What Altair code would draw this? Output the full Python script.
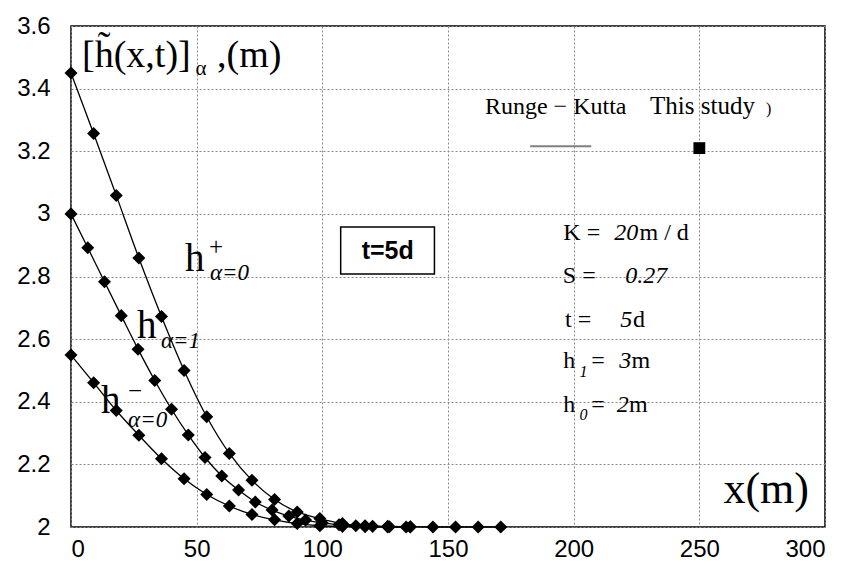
import altair as alt
import pandas as pd

# ---- data ----
x_plus = [0, 9, 18, 27, 36, 45, 54, 63, 72, 81, 90, 99, 108, 117, 126, 135, 144, 153, 162, 171]
h_plus = [3.45, 3.257, 3.059, 2.859, 2.672, 2.500, 2.352, 2.235, 2.149, 2.088,
          2.048, 2.027, 2.011, 2.004, 2.002, 2.001, 2.0, 2.0, 2.0, 2.0]

x_mid = [0, 6.67, 13.33, 20, 26.67, 33.33, 40, 46.67, 53.33, 60, 66.67, 73.33, 80,
         86.67, 93.33, 100, 106.67, 113.33, 120, 126.67, 133.33]
h_mid = [3.000, 2.892, 2.783, 2.675, 2.568, 2.468, 2.376, 2.294, 2.222, 2.163, 2.118,
         2.080, 2.054, 2.035, 2.022, 2.013, 2.007, 2.004, 2.002, 2.001, 2.000]

x_minus = [0, 9, 18, 27, 36, 45, 54, 63, 72, 81, 90, 99, 108, 117, 126, 135]
h_minus = [2.549, 2.461, 2.372, 2.293, 2.218, 2.154, 2.104, 2.067, 2.040, 2.023,
           2.011, 2.004, 2.002, 2.001, 2.000, 2.000]

x_ticks = [0, 50, 100, 150, 200, 250, 300]
y_ticks = [2.0, 2.2, 2.4, 2.6, 2.8, 3.0, 3.2, 3.4, 3.6]

rows = []
for name, xs, hs in [("plus", x_plus, h_plus), ("mid", x_mid, h_mid), ("minus", x_minus, h_minus)]:
    for a, b in zip(xs, hs):
        rows.append({"series": name, "x": a, "h": b})
df = pd.DataFrame(rows)

X = alt.X("x:Q", title=None,
          scale=alt.Scale(domain=[0, 300], nice=False, zero=False),
          axis=alt.Axis(values=x_ticks, format="d", labelPadding=10))
Y = alt.Y("h:Q", title=None,
          scale=alt.Scale(domain=[2.0, 3.6], nice=False, zero=False),
          axis=alt.Axis(values=y_ticks, format="~g", labelPadding=21))

lines = alt.Chart(df).mark_line(color="black", strokeWidth=1.3, interpolate="monotone").encode(
    x=X, y=Y, detail="series:N")
points = alt.Chart(df).mark_point(shape="diamond", filled=True, color="black", size=170, opacity=1).encode(
    x=X, y=Y)

SERIF = "Liberation Serif"
SANS = "Liberation Sans"

# (text, x, h, size, font, style, weight, align, baseline)
pieces = [
    ("[h\u0303(x,t)]", 4.4, 3.468, 38, SERIF, "normal", "normal", "left", "alphabetic"),
    ("α", 49.5, 3.443, 21, SERIF, "normal", "normal", "left", "alphabetic"),
    (",(m)", 58.1, 3.468, 38, SERIF, "normal", "normal", "left", "alphabetic"),
    ("h", 45.4, 2.819, 39, SERIF, "normal", "normal", "left", "alphabetic"),
    ("+", 57.7, 2.869, 25, SERIF, "normal", "normal", "center", "alphabetic"),
    ("α=0", 55.3, 2.790, 23, SERIF, "italic", "normal", "left", "alphabetic"),
    ("h", 26.3, 2.604, 39, SERIF, "normal", "normal", "left", "alphabetic"),
    ("α=1", 35.8, 2.572, 23, SERIF, "italic", "normal", "left", "alphabetic"),
    ("h", 11.9, 2.364, 39, SERIF, "normal", "normal", "left", "alphabetic"),
    ("−", 25.5, 2.409, 25, SERIF, "normal", "normal", "center", "alphabetic"),
    ("α=0", 22.7, 2.319, 23, SERIF, "italic", "normal", "left", "alphabetic"),
    ("Runge − Kutta", 164.7, 3.318, 24, SERIF, "normal", "normal", "left", "alphabetic"),
    ("This study", 230.4, 3.318, 25, SERIF, "normal", "normal", "left", "alphabetic"),
    (")", 276.5, 3.318, 16, SERIF, "normal", "normal", "left", "alphabetic"),
    ("K =", 195.9, 2.918, 24, SERIF, "normal", "normal", "left", "alphabetic"),
    ("20", 216.1, 2.918, 24, SERIF, "italic", "normal", "left", "alphabetic"),
    ("m / d", 226.2, 2.918, 24, SERIF, "normal", "normal", "left", "alphabetic"),
    ("S =", 195.7, 2.779, 24, SERIF, "normal", "normal", "left", "alphabetic"),
    ("0.27", 220.5, 2.779, 24, SERIF, "italic", "normal", "left", "alphabetic"),
    ("t =", 196.6, 2.640, 24, SERIF, "normal", "normal", "left", "alphabetic"),
    ("5", 218.5, 2.640, 24, SERIF, "italic", "normal", "left", "alphabetic"),
    ("d", 223.6, 2.640, 24, SERIF, "normal", "normal", "left", "alphabetic"),
    ("h", 195.9, 2.507, 24, SERIF, "normal", "normal", "left", "alphabetic"),
    ("1", 202.3, 2.480, 16, SERIF, "italic", "normal", "left", "alphabetic"),
    ("=", 207.0, 2.507, 24, SERIF, "normal", "normal", "left", "alphabetic"),
    ("3", 218.1, 2.507, 24, SERIF, "italic", "normal", "left", "alphabetic"),
    ("m", 223.0, 2.507, 24, SERIF, "normal", "normal", "left", "alphabetic"),
    ("h", 195.9, 2.368, 24, SERIF, "normal", "normal", "left", "alphabetic"),
    ("0", 202.3, 2.342, 16, SERIF, "italic", "normal", "left", "alphabetic"),
    ("=", 207.0, 2.368, 24, SERIF, "normal", "normal", "left", "alphabetic"),
    ("2", 217.1, 2.368, 24, SERIF, "italic", "normal", "left", "alphabetic"),
    ("m", 222.0, 2.368, 24, SERIF, "normal", "normal", "left", "alphabetic"),
    ("x(m)", 259.6, 2.076, 44, SERIF, "normal", "normal", "left", "alphabetic"),
]

text_layers = []
for (t, xv, hv, sz, font, style, weight, align, base) in pieces:
    d = pd.DataFrame({"x": [xv], "h": [hv], "t": [t]})
    text_layers.append(
        alt.Chart(d).mark_text(font=font, fontSize=sz, fontStyle=style, fontWeight=weight,
                               align=align, baseline=base, color="black").encode(
            x=X, y=Y, text="t:N"))

# t=5d box
box_df = pd.DataFrame({"x": [107.3], "x2": [144.6], "h": [2.958], "h2": [2.808]})
box = alt.Chart(box_df).mark_rect(fill="white", stroke="black", strokeWidth=1.5).encode(
    x=X, x2="x2:Q", y=Y, y2="h2:Q")
box_txt = alt.Chart(pd.DataFrame({"x": [126.0], "h": [2.883], "t": ["t=5d"]})).mark_text(
    font=SANS, fontSize=25, fontWeight="bold", align="center", baseline="middle", color="black").encode(
    x=X, y=Y, text="t:N")

# legend pieces
leg_line = alt.Chart(pd.DataFrame({"x": [182.7], "x2": [207.0], "h": [3.216]})).mark_rule(
    color="#808080", strokeWidth=2).encode(x=X, x2="x2:Q", y=Y)
leg_sq = alt.Chart(pd.DataFrame({"x": [250.0], "h": [3.21]})).mark_point(
    shape="square", filled=True, color="black", size=140, opacity=1).encode(x=X, y=Y)

chart = alt.layer(lines, points, box, box_txt, leg_line, leg_sq, *text_layers).properties(
    width=754, height=501,
    autosize=alt.AutoSizeParams(type="none"),
    padding={"left": 63, "top": 18, "right": 16, "bottom": 41},
).configure_view(
    stroke="black", strokeWidth=1.5
).configure_axis(
    labelFont=SANS, labelFontSize=24, labelColor="black",
    grid=True, gridColor="#8a8a8a", gridDash=[2, 2], gridWidth=1,
    domain=False, ticks=False,
)

chart.save("out.html", embed_options={"renderer": "svg", "actions": False})
